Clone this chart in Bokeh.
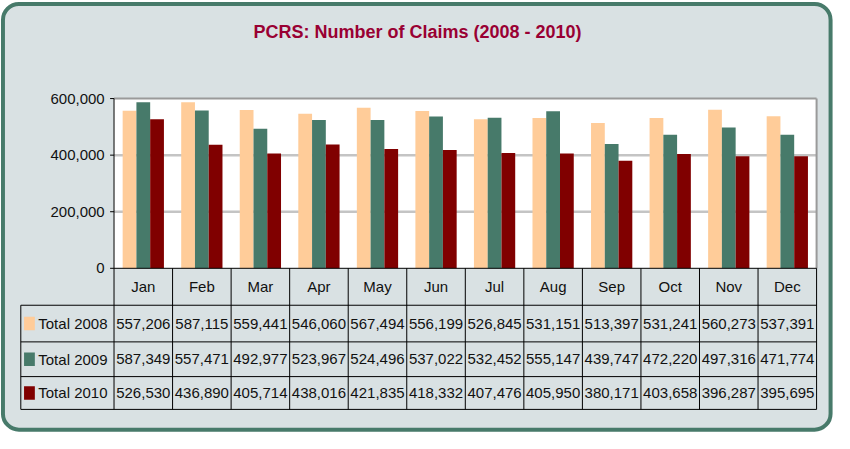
from bokeh.plotting import figure
from bokeh.models import Range1d, BoxAnnotation, ColumnDataSource
from bokeh.core.properties import value
from bokeh.embed import file_html
from bokeh.resources import INLINE

# ---------------- data ----------------
months = ["Jan", "Feb", "Mar", "Apr", "May", "Jun", "Jul", "Aug", "Sep", "Oct", "Nov", "Dec"]
series_names = ["Total 2008", "Total 2009", "Total 2010"]
total_2008 = [557206, 587115, 559441, 546060, 567494, 556199, 526845, 531151, 513397, 531241, 560273, 537391]
total_2009 = [587349, 557471, 492977, 523967, 524496, 537022, 532452, 555147, 439747, 472220, 497316, 471774]
total_2010 = [526530, 436890, 405714, 438016, 421835, 418332, 407476, 405950, 380171, 403658, 396287, 395695]
y_ticks = [0, 200000, 400000, 600000]
y_tick_labels = ["0", "200,000", "400,000", "600,000"]
y_max = 600000
title_text = "PCRS: Number of Claims (2008 - 2010)"
colors = ["#ffcc99", "#477a6a", "#800000"]

# ---------------- layout (reference pixels, 850 x 449 design) ----------------
FONT = "Liberation Sans"
FS = "15px"
W, H = 834, 433                  # figure size
RW, RH = 850, 449                # design size
X0, COLW = 115.7, 59.67          # left edge of Jan column, column width
Y0, YTOP = 277.7, 101.7          # pixel of value 0 and of y_max
LEG_L = 20.7                     # left edge of legend column
ROW_EDGES = [316, 354, 390, 424]
HEAD_C = 297
BAR_W = 0.235

n = len(months)
k = (Y0 - YTOP) / y_max
p = figure(width=W, height=H, output_backend="svg", toolbar_location=None,
           x_range=Range1d((0 - X0) / COLW, (RW - X0) / COLW),
           y_range=Range1d(-(RH - Y0) / k, Y0 / k),
           min_border=0, x_axis_type=None, y_axis_type=None, tools="")
p.extra_x_ranges = {"px": Range1d(0, RW)}
p.extra_y_ranges = {"py": Range1d(RH, 0)}
p.outline_line_color = None
p.background_fill_color = "white"
p.border_fill_color = "white"

# outer rounded panel
p.add_layout(BoxAnnotation(left=2.5, right=RW - 4, top=3.5, bottom=RH - 4,
                           x_range_name="px", y_range_name="py",
                           fill_color="#d9e1e3", fill_alpha=1,
                           line_color="#477a6a", line_alpha=1, line_width=4,
                           border_radius=16, level="underlay"))

# title
p.text(x=[425], y=[33], text=[title_text], x_range_name="px", y_range_name="py",
       text_font=value(FONT), text_font_style="bold", text_font_size="18px",
       text_color="#990033", text_align="center", text_baseline="middle")

# plot area
p.quad(left=[0], right=[n], bottom=[0], top=[y_max], fill_color="white", line_color=None)
grid_ticks = [t for t in y_ticks if 0 < t < y_max]
p.segment(x0=[0] * len(grid_ticks), x1=[n] * len(grid_ticks), y0=grid_ticks, y1=grid_ticks,
          line_color="#c4c4c4", line_width=2.5)
p.segment(x0=[0, n], x1=[n, n], y0=[y_max, y_max], y1=[y_max, 0],
          line_color="#9a9a9a", line_width=2)

# bars
for j, (vals, c) in enumerate(zip([total_2008, total_2009, total_2010], colors)):
    src = ColumnDataSource(dict(x=[i + 0.5 + (j - 1) * BAR_W for i in range(n)], top=vals))
    p.vbar(x="x", top="top", bottom=0, width=BAR_W, source=src,
           fill_color=c, line_color=None)

# y axis
p.segment(x0=[0], x1=[0], y0=[0], y1=[y_max], line_color="black", line_width=1)
p.segment(x0=[-4 / COLW] * len(y_ticks), x1=[0] * len(y_ticks), y0=y_ticks, y1=y_ticks,
          line_color="black", line_width=1)
p.text(x=[-9.5 / COLW] * len(y_ticks), y=y_ticks, text=y_tick_labels,
       text_font=value(FONT), text_font_size=FS, text_color="#111111",
       text_align="right", text_baseline="middle")

# data table
leg_l = (LEG_L - X0) / COLW
hy = [Y0] + ROW_EDGES
hx0 = [0] + [leg_l] * len(ROW_EDGES)
p.segment(x0=hx0, x1=[n] * len(hy), y0=hy, y1=hy, y_range_name="py",
          line_color="black", line_width=1)
vx = [leg_l] + list(range(n + 1))
vy0 = [ROW_EDGES[0]] + [Y0] * (n + 1)
p.segment(x0=vx, x1=vx, y0=vy0, y1=[ROW_EDGES[-1]] * len(vx), y_range_name="py",
          line_color="black", line_width=1)

p.text(x=[i + 0.5 for i in range(n)], y=[HEAD_C] * n, text=months, y_range_name="py",
       text_font=value(FONT), text_font_size=FS, text_color="#111111",
       text_align="center", text_baseline="middle")

row_c = [(ROW_EDGES[r] + ROW_EDGES[r + 1]) / 2 for r in range(3)]
for r, vals in enumerate([total_2008, total_2009, total_2010]):
    p.text(x=[i + 0.5 for i in range(n)], y=[row_c[r]] * n, text=[f"{v:,}" for v in vals],
           y_range_name="py", text_font=value(FONT), text_font_size=FS,
           text_color="#111111", text_align="center", text_baseline="middle")

p.rect(x=[29.5] * 3, y=row_c, width=11, height=14, x_range_name="px", y_range_name="py",
       fill_color=colors, line_color=None)
p.text(x=[38.5] * 3, y=row_c, text=series_names, x_range_name="px", y_range_name="py",
       text_font=value(FONT), text_font_size=FS, text_color="#111111",
       text_align="left", text_baseline="middle")

open("out.html", "w").write(file_html(p, INLINE))
